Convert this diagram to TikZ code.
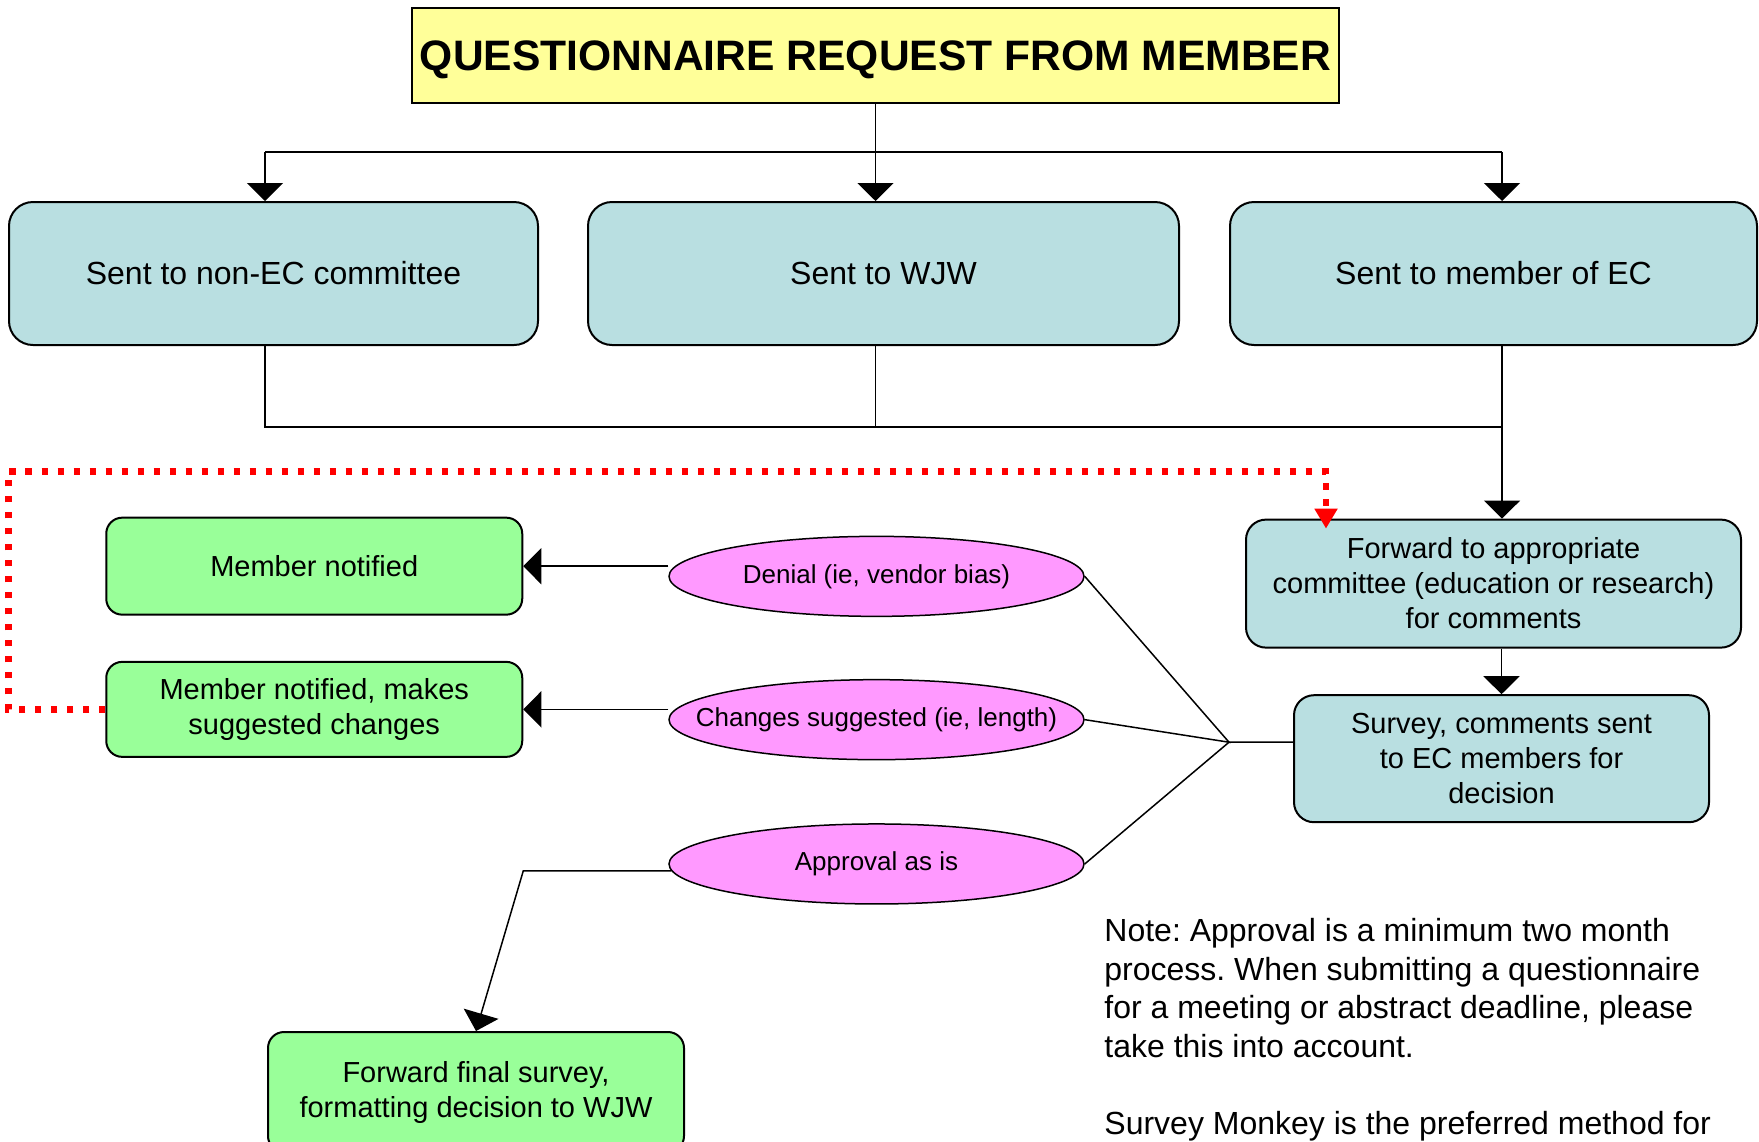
\documentclass[tikz,border=0pt]{standalone}
\usepackage{fontspec}
\setmainfont{Liberation Sans}
\usepackage{tikz}
\usetikzlibrary{positioning, shapes.geometric, arrows.meta}
\frenchspacing
\definecolor{titleyellow}{RGB}{255,255,153}
\definecolor{boxteal}{RGB}{185,223,225}
\definecolor{boxgreen}{RGB}{153,255,153}
\definecolor{choicepink}{RGB}{255,153,255}
\tikzstyle{line} = [line width=0.75pt]
\tikzstyle{arrow} = [line width=0.75pt,-{Triangle[width=18pt,length=9pt]}]
\tikzstyle{feedback} = [red, line width=3.3pt, dash pattern=on 3.3pt off 4.7pt, -{Triangle[width=11pt,length=10pt]}, shorten >=-5pt]

\begin{document}
\begin{tikzpicture}[
titlebox/.style={rectangle, draw=black, line width=1pt, fill=titleyellow, minimum width=463.5pt, minimum height=47.5pt, text depth=0pt, font=\fontsize{21.3}{25}\selectfont\bfseries},
sentbox/.style={rectangle, draw=black, line width=1pt, fill=boxteal, rounded corners=12pt, minimum height=71.5pt, font=\fontsize{16}{19}\selectfont},
stepbox/.style={rectangle, draw=black, line width=1pt, fill=boxteal, rounded corners=10pt, align=center, font=\fontsize{14.5}{17.5}\selectfont},
notebox/.style={rectangle, draw=black, line width=1pt, fill=boxgreen, rounded corners=8pt, align=center, minimum width=208pt, font=\fontsize{14.5}{17.5}\selectfont},
choice/.style={ellipse, draw=black, line width=0.75pt, fill=choicepink, minimum width=207.5pt, minimum height=40pt, inner xsep=-20pt, inner ysep=0pt, font=\fontsize{13}{15}\selectfont}
]
\useasboundingbox (0,0) rectangle (879.5pt,-570.5pt);
\node[titlebox] (req) at (437.75pt,-27.75pt) {QUESTIONNAIRE REQUEST FROM MEMBER};
\node[sentbox, minimum width=295.5pt] (wjw) [below=48.5pt of req, xshift=4pt] {Sent to WJW};
\node[sentbox, minimum width=264.5pt] (nonec) [left=24pt of wjw] {Sent to non-EC committee};
\node[sentbox, minimum width=263.5pt] (ecm) [right=24.5pt of wjw] {Sent to member of EC};

\node[stepbox, minimum width=247.5pt, minimum height=64pt] (fwd) [below=86.3pt of ecm] {Forward to appropriate\\committee (education or research)\\for comments};
\node[stepbox, minimum width=207.5pt, minimum height=63.5pt] (sv) [below=22.8pt of fwd, xshift=4pt] {Survey, comments sent\\to EC members for\\decision};

\node[choice] (den) [below=94.8pt of wjw, xshift=-3.5pt] {Denial (ie, vendor bias)};
\node[choice] (chg) [below=30.9pt of den] {Changes suggested (ie, length)};
\node[choice] (app) [below=31.4pt of chg] {Approval as is};

\node[notebox, minimum height=48.5pt] (mn) [left=72.5pt of den, yshift=5.1pt] {Member notified};
\node[notebox, minimum height=47.5pt] (mnc) [below=22.6pt of mn] {Member notified, makes\\suggested changes};
\node[notebox, minimum height=60pt] (fin) at (238pt,-546pt) {Forward final survey,\\formatting decision to WJW};

\node[align=left, anchor=north west, inner sep=0pt, font=\fontsize{16}{19.3}\selectfont] (note) at (552pt,-459pt) {Note: Approval is a minimum two month\\process. When submitting a questionnaire\\for a meeting or abstract deadline, please\\take this into account.\\[19.3pt]Survey Monkey is the preferred method for};

% request to the three routes
\coordinate (busT) at ([yshift=-24pt]req.south);
\coordinate (a1) at ([xshift=-4.25pt]nonec.north);
\coordinate (a3) at ([xshift=4.25pt]ecm.north);
\draw[line] (req.south) -- (busT);
\draw[line] (busT -| a1) -- (busT -| a3);
\draw[arrow] (busT -| a1) -- (a1);
\draw[arrow] (busT) -- (busT |- wjw.north);
\draw[arrow] (busT -| a3) -- (a3);

% routes join again
\coordinate (busB) at ([yshift=-40.5pt]wjw.south -| req.south);
\draw[line] (a1 |- nonec.south) -- (a1 |- busB) -- (a3 |- busB);
\draw[line] (busB |- wjw.south) -- (busB);
\draw[arrow] (a3 |- ecm.south) -- (a3 |- fwd.north);
\draw[arrow] (sv.north |- fwd.south) -- (sv.north);

% decisions
\coordinate (fan) at ([xshift=-32pt, yshift=8.25pt]sv.west);
\draw[line] (den.east) -- (fan) -- (chg.east);
\draw[line] (app.east) -- (fan) -- (fan -| sv.west);
\draw[arrow] (den.west |- mn.east) -- (mn.east);
\draw[arrow] (chg.west |- mnc.east) -- (mnc.east);
\draw[arrow] ([xshift=1.6pt, yshift=-3.5pt]app.west) -- ([yshift=-3.5pt]app.west -| mnc.east) -- (fin.north);

% resubmission loop
\draw[feedback] (mnc.west) -- ++(-48.5pt,0) |- ([xshift=-83.75pt, yshift=23.5pt]fwd.north) -- ([xshift=-83.75pt]fwd.north);
\end{tikzpicture}
\end{document}
